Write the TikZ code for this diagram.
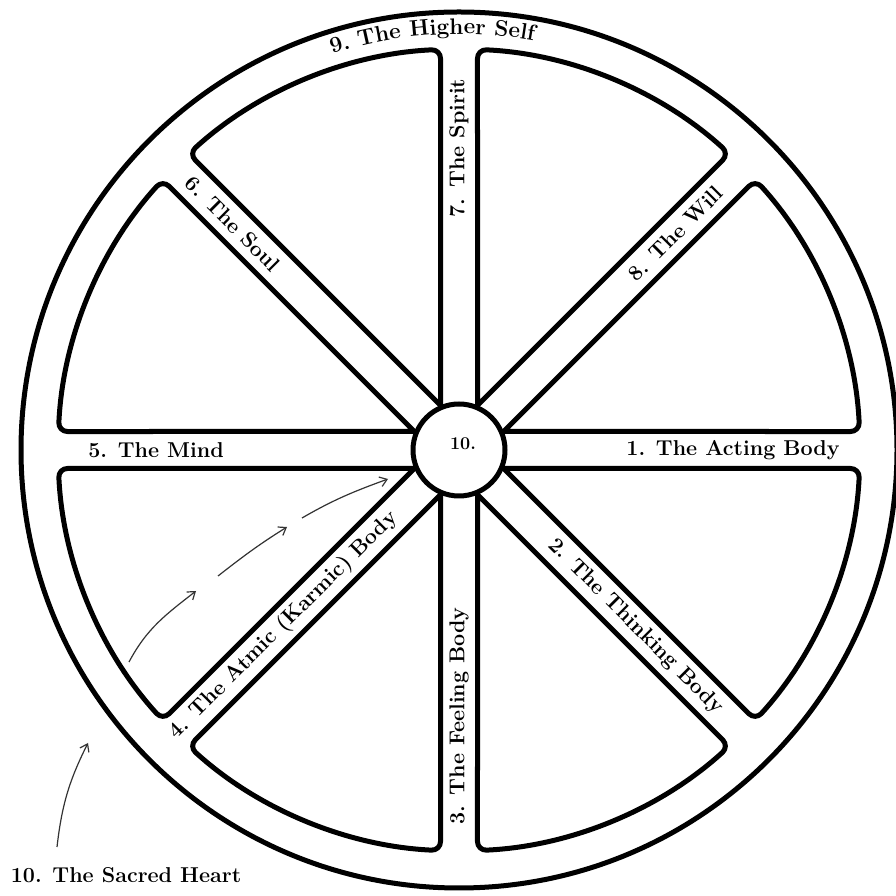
\documentclass[tikz,border=0pt]{standalone}
\usetikzlibrary{arrows.meta,decorations.text}
\tikzset{
  rim/.style={line width=5pt},
  cell/.style={line width=5pt, line join=round},
  hub/.style={circle, draw, line width=5pt, fill=white, minimum size=92pt, inner sep=0pt},
  lab/.style={font=\bfseries\fontsize{21.5}{26}\selectfont, inner sep=0pt, anchor=center},
  hublab/.style={font=\bfseries\fontsize{18}{22}\selectfont, inner sep=0pt},
  guide/.style={line width=1.2pt, draw=black!80, -{Straight Barb[length=7pt,width=10pt]}}
}
\begin{document}
\begin{tikzpicture}[x=1pt,y=1pt]
\useasboundingbox (0,0) rectangle (896,896);
\fill[white] (0,0) rectangle (896,896);
\coordinate (C) at (459,446);
\begin{scope}[shift={(C)}]
  \draw[rim] (0,0) circle[radius=438];
  \foreach \a in {0,45,...,315} {
    \draw[cell] (\a+22.5:48.34) [rounded corners=9pt] -- (\a+2.644:401)
      arc[start angle=\a+2.644, end angle=\a+42.356, radius=401] [sharp corners] -- cycle;
  }
  \node[hub] (hub) at (0,0) {};
  \node[hublab] (hubl) at (4,6) {10.};
  \node[lab] (n1) at (0:274) {1. The Acting Body};
  \node[lab, rotate=-45] (n2) at (315:250) {2. The Thinking Body};
  \node[lab, rotate=90] (n3) at (270:266) {3. The Feeling Body};
  \node[lab, rotate=45] (n4) at (225:248) {4. The Atmic (Karmic) Body};
  \node[lab] (n5) at (180:303) {5. The Mind};
  \node[lab, rotate=-45] (n6) at (135:320) {6. The Soul};
  \node[lab, rotate=90] (n7) at (90:302) {7. The Spirit};
  \node[lab, rotate=45] (n8) at (45:306) {8. The Will};
  \path[decorate, decoration={text along path, text align=center,
      text={|\bfseries\fontsize{22.5}{27}\selectfont|9. The Higher Self}}]
    (116:416) arc[start angle=116, end angle=71.4, radius=416];
\end{scope}
\node[lab] (heart) at (126,21) {10. The Sacred Heart};
\coordinate (hs) at (57,49);
\coordinate (he) at (88,153);
\draw[guide] (hs) to[bend left=10] (he);
\coordinate (a1s) at (129,234);
\coordinate (a1e) at (196,305);
\coordinate (a2s) at (218,320);
\coordinate (a2e) at (287,369);
\coordinate (a3s) at (302,378);
\coordinate (a3e) at (388,417);
\draw[guide] (a1s) to[out=62,in=218] (a1e);
\draw[guide] (a2s) to[out=38,in=212] (a2e);
\draw[guide] (a3s) to[out=30,in=200] (a3e);
\end{tikzpicture}
\end{document}
